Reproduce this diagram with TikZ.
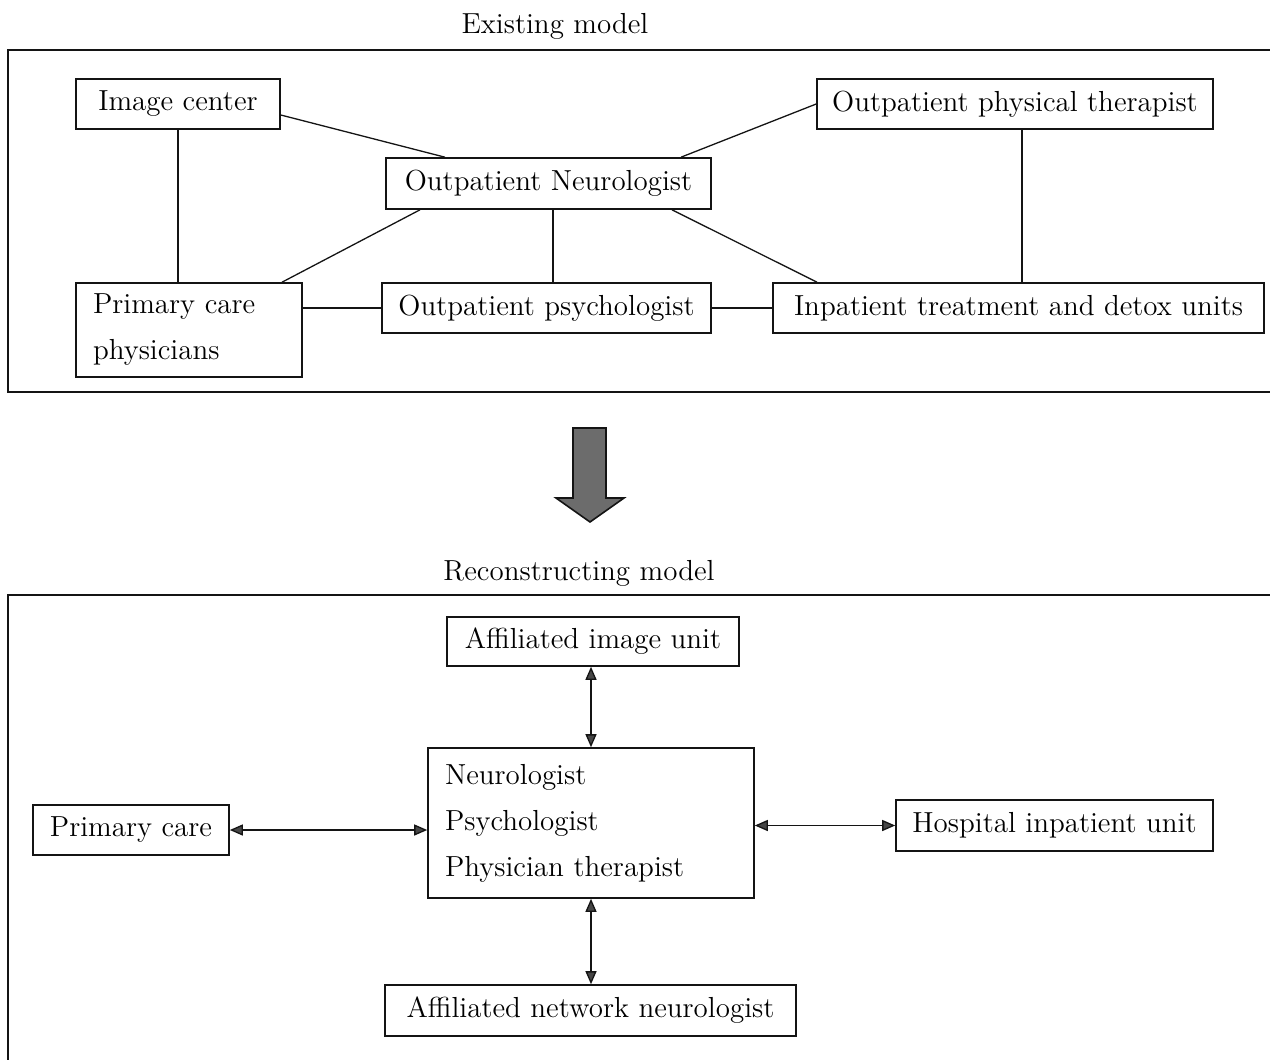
\documentclass[tikz,border=0pt]{standalone}
\usepackage{xcolor}
\usepackage{tikz}
\usetikzlibrary{positioning, arrows.meta, calc}
\definecolor{ink}{RGB}{20,20,20}
\definecolor{tipgray}{RGB}{70,70,70}
\definecolor{bulk}{RGB}{108,108,108}

\begin{document}
\begin{tikzpicture}[
  x=0.5pt, y=-0.5pt,
  unit/.style={draw=ink, line width=0.8pt, inner sep=0pt,
               font=\fontsize{14.5}{17}\selectfont},
  multi/.style={unit, align=left, inner xsep=8.5pt,
                font=\fontsize{14.5}{23}\selectfont},
  title/.style={font=\fontsize{14.5}{17}\selectfont, inner sep=0pt},
  frame/.style={draw=ink, line width=0.8pt},
  link/.style={draw=ink, line width=0.65pt},
  both/.style={draw=ink, line width=0.65pt,
               {Triangle[length=6.5pt, width=5.5pt, fill=tipgray]}-{Triangle[length=6.5pt, width=5.5pt, fill=tipgray]}}]
  \useasboundingbox (0,0) rectangle (1270,1060);
  \clip (0,0) rectangle (1270,1060);
  % existing model
  \node[title] (ttlold) at (555,26) {Existing model};
  \draw[frame] (8,50) rectangle (1290,392);
  \node[unit, minimum width=102pt, minimum height=25pt] (img) at (178,104) {Image center};
  \node[unit, minimum width=162.5pt, minimum height=25.5pt] (neuro) at (548.5,183.5) {Outpatient Neurologist};
  \node[unit, minimum width=198pt, minimum height=25pt] (phys) at (1015,104) {Outpatient physical therapist};
  \node[multi, text width=96pt, minimum height=47pt] (pcp) at (189,330) {Primary care\\physicians};
  \node[unit, minimum width=164.5pt, minimum height=25pt] (psych) at (546.5,308) {Outpatient psychologist};
  \node[unit, minimum width=245.5pt, minimum height=25pt] (inpat) at (1018.5,308) {Inpatient treatment and detox units};
  \draw[link] ($(img.east)+(0,11)$) -- ($(neuro.north)+(-103.5,0)$);
  \draw[link] (phys.west) -- ($(neuro.north)+(132.5,0)$);
  \draw[link] (img.south) -- (img.south |- pcp.north);
  \draw[link] ($(neuro.south)+(-128.5,0)$) -- ($(pcp.north)+(93,0)$);
  \coordinate (nmid) at ($(neuro.south)+(4.5,0)$);
  \draw[link] (nmid) -- (nmid |- psych.north);
  \draw[link] ($(neuro.south)+(123.5,0)$) -- ($(inpat.north)+(-201.5,0)$);
  \coordinate (pmid) at ($(phys.south)+(7,0)$);
  \draw[link] (pmid) -- (pmid |- inpat.north);
  \draw[link] (psych.west -| pcp.east) -- (psych.west);
  \draw[link] (psych.east) -- (inpat.west);
  % change arrow
  \draw[draw=ink, line width=0.8pt, fill=bulk]
    (573,428) -- (606,428) -- (606,498) -- (624,498) -- (590,522)
    -- (556,498) -- (573,498) -- cycle;
  % reconstructing model
  \node[title] (ttlnew) at (579,573) {Reconstructing model};
  \draw[frame] (8,595) rectangle (1290,1080);
  \node[unit, minimum width=146pt, minimum height=24.5pt] (aiu) at (593,641.5) {Affiliated image unit};
  \node[multi, text width=146pt, minimum height=75pt] (core) at (591,823) {Neurologist\\Psychologist\\Physician therapist};
  \node[unit, minimum width=98pt, minimum height=25pt] (pcare) at (131,830) {Primary care};
  \node[unit, minimum width=158.5pt, minimum height=25.5pt] (hiu) at (1054.5,825.5) {Hospital inpatient unit};
  \node[unit, minimum width=205.5pt, minimum height=25.5pt] (anet) at (590.5,1010.5) {Affiliated network neurologist};
  \draw[both] (core.north |- aiu.south) -- (core.north);
  \draw[both] (pcare.east) -- (pcare.east -| core.west);
  \draw[both] (core.east |- hiu.west) -- (hiu.west);
  \draw[both] (core.south) -- (core.south |- anet.north);
\end{tikzpicture}
\end{document}
